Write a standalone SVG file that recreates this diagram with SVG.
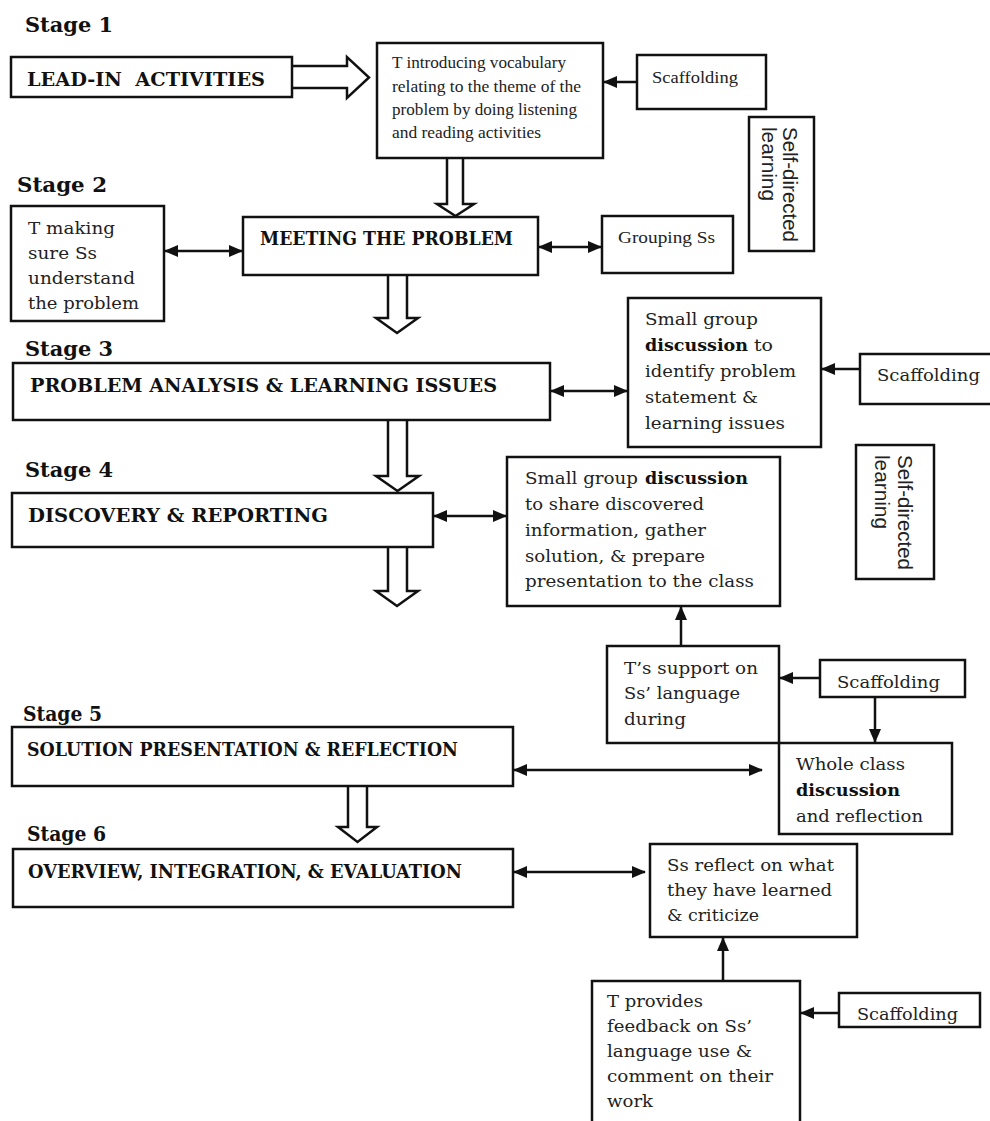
<svg xmlns="http://www.w3.org/2000/svg" width="990" height="1121" viewBox="0 0 990 1121">
<style>
.bx{fill:#fff;stroke:#111;stroke-width:2.5}
.h{font-family:"DejaVu Serif","Liberation Serif",serif;font-weight:bold;font-size:18.5px;fill:#111}
.st{font-family:"DejaVu Serif","Liberation Serif",serif;font-weight:bold;font-size:19.5px;fill:#111}
.t{font-family:"Liberation Serif","Times New Roman",serif;font-size:17.5px;fill:#222}
.w{font-family:"DejaVu Serif","Liberation Serif",serif;font-size:17.5px;fill:#222}
.wb{font-family:"DejaVu Serif","Liberation Serif",serif;font-size:17.5px;font-weight:bold;fill:#111}
.sd{font-family:"Liberation Sans",Arial,sans-serif;font-size:19.5px;fill:#222}
.c{stroke:#111;stroke-width:2.5;fill:none}
.blk{fill:#fff;stroke:#111;stroke-width:2.5;stroke-linejoin:miter}
</style>
<defs>
<marker id="ah" markerUnits="userSpaceOnUse" markerWidth="14" markerHeight="12" refX="13" refY="6" orient="auto-start-reverse">
<path d="M0,0 L14,6 L0,12 Z" fill="#111"/>
</marker>
</defs>
<rect width="990" height="1121" fill="#fff"/>

<g id="stage-labels">
<text class="st" x="25" y="32" textLength="88" lengthAdjust="spacingAndGlyphs">Stage 1</text>
<text class="st" x="17" y="192" textLength="90" lengthAdjust="spacingAndGlyphs">Stage 2</text>
<text class="st" x="25" y="356" textLength="88" lengthAdjust="spacingAndGlyphs">Stage 3</text>
<text class="st" x="25" y="477" textLength="88" lengthAdjust="spacingAndGlyphs">Stage 4</text>
<text class="st" x="23" y="721" textLength="79" lengthAdjust="spacingAndGlyphs">Stage 5</text>
<text class="st" x="27" y="841" textLength="79" lengthAdjust="spacingAndGlyphs">Stage 6</text>
</g>

<g id="connectors">
<path class="blk" d="M292,66 L347,66 L347,57 L369,77.5 L347,98 L347,88 L292,88"/>
<path class="blk" d="M447,158 L447,204 L437,204 L455.5,216 L474,204 L463,204 L463,158"/>
<path class="blk" d="M388,275 L388,318 L376,318 L397,333 L418,318 L407,318 L407,275"/>
<path class="blk" d="M388,421 L388,476 L376,476 L397.5,491 L419,476 L407,476 L407,421"/>
<path class="blk" d="M388,547 L388,591 L376,591 L397,606 L418,591 L407,591 L407,547"/>
<path class="blk" d="M348,786 L348,827 L338,827 L357.5,842 L377,827 L367,827 L367,786"/>
<line class="c" x1="165" y1="251" x2="242" y2="251" marker-start="url(#ah)" marker-end="url(#ah)"/>
<line class="c" x1="539" y1="247" x2="601" y2="247" marker-start="url(#ah)" marker-end="url(#ah)"/>
<line class="c" x1="551" y1="391" x2="627" y2="391" marker-start="url(#ah)" marker-end="url(#ah)"/>
<line class="c" x1="434" y1="516" x2="506" y2="516" marker-start="url(#ah)" marker-end="url(#ah)"/>
<line class="c" x1="514" y1="770" x2="762" y2="770" marker-start="url(#ah)" marker-end="url(#ah)"/>
<line class="c" x1="514" y1="872" x2="645" y2="872" marker-start="url(#ah)" marker-end="url(#ah)"/>
<line class="c" x1="637" y1="82" x2="604" y2="82" marker-end="url(#ah)"/>
<line class="c" x1="860" y1="369" x2="822" y2="369" marker-end="url(#ah)"/>
<line class="c" x1="681" y1="646" x2="681" y2="607" marker-end="url(#ah)"/>
<line class="c" x1="820" y1="678" x2="780" y2="678" marker-end="url(#ah)"/>
<line class="c" x1="875" y1="697" x2="875" y2="742" marker-end="url(#ah)"/>
<line class="c" x1="723" y1="981" x2="723" y2="938" marker-end="url(#ah)"/>
<line class="c" x1="839" y1="1013" x2="801" y2="1013" marker-end="url(#ah)"/>
</g>

<g id="lead-in">
<rect class="bx" x="11" y="57" width="281" height="40"/>
<text class="h" x="27" y="86" textLength="238" lengthAdjust="spacingAndGlyphs" xml:space="preserve">LEAD-IN  ACTIVITIES</text>
</g>

<g id="t-introducing">
<rect class="bx" x="377" y="43" width="226" height="115"/>
<text class="t" x="392" y="68" textLength="174" lengthAdjust="spacingAndGlyphs">T introducing vocabulary</text>
<text class="t" x="392" y="91.5" textLength="189" lengthAdjust="spacingAndGlyphs">relating to the theme of the</text>
<text class="t" x="392" y="115" textLength="185" lengthAdjust="spacingAndGlyphs">problem by doing listening</text>
<text class="t" x="392" y="138" textLength="149" lengthAdjust="spacingAndGlyphs">and reading activities</text>
</g>

<g id="scaffolding-1">
<rect class="bx" x="637" y="55" width="129" height="54"/>
<text class="t" x="652" y="83" textLength="86" lengthAdjust="spacingAndGlyphs">Scaffolding</text>
</g>

<g id="self-directed-1">
<rect class="bx" x="749" y="117" width="65" height="134"/>
<text class="sd" transform="translate(783,127) rotate(90)" textLength="115" lengthAdjust="spacingAndGlyphs">Self-directed</text>
<text class="sd" transform="translate(762,127) rotate(90)" textLength="74" lengthAdjust="spacingAndGlyphs">learning</text>
</g>

<g id="t-making-sure">
<rect class="bx" x="11" y="206" width="153" height="115"/>
<text class="w" x="28" y="234" textLength="87" lengthAdjust="spacingAndGlyphs">T making</text>
<text class="w" x="28" y="259" textLength="69" lengthAdjust="spacingAndGlyphs">sure Ss</text>
<text class="w" x="28" y="284" textLength="107" lengthAdjust="spacingAndGlyphs">understand</text>
<text class="w" x="28" y="309" textLength="111" lengthAdjust="spacingAndGlyphs">the problem</text>
</g>

<g id="meeting-the-problem">
<rect class="bx" x="243" y="217" width="295" height="58"/>
<text class="h" x="260" y="245" textLength="253" lengthAdjust="spacingAndGlyphs">MEETING THE PROBLEM</text>
</g>

<g id="grouping-ss">
<rect class="bx" x="602" y="216" width="131" height="57"/>
<text class="t" x="618" y="243" textLength="97" lengthAdjust="spacingAndGlyphs">Grouping Ss</text>
</g>

<g id="problem-analysis">
<rect class="bx" x="13" y="363" width="537" height="57"/>
<text class="h" x="30" y="392" textLength="467" lengthAdjust="spacingAndGlyphs">PROBLEM ANALYSIS &amp; LEARNING ISSUES</text>
</g>

<g id="small-group-1">
<rect class="bx" x="628" y="298" width="193" height="149"/>
<text class="w" x="645" y="325" textLength="113" lengthAdjust="spacingAndGlyphs">Small group</text>
<text class="wb" x="645" y="351" textLength="103" lengthAdjust="spacingAndGlyphs">discussion</text>
<text class="w" x="754" y="351" textLength="19" lengthAdjust="spacingAndGlyphs">to</text>
<text class="w" x="645" y="377" textLength="151" lengthAdjust="spacingAndGlyphs">identify problem</text>
<text class="w" x="645" y="403" textLength="113" lengthAdjust="spacingAndGlyphs">statement &amp;</text>
<text class="w" x="645" y="429" textLength="140" lengthAdjust="spacingAndGlyphs">learning issues</text>
</g>

<g id="scaffolding-2">
<rect class="bx" x="860" y="354" width="140" height="50"/>
<text class="w" x="877" y="381" textLength="103" lengthAdjust="spacingAndGlyphs">Scaffolding</text>
</g>

<g id="self-directed-2">
<rect class="bx" x="856" y="445" width="78" height="134"/>
<text class="sd" transform="translate(898,455) rotate(90)" textLength="115" lengthAdjust="spacingAndGlyphs">Self-directed</text>
<text class="sd" transform="translate(875,455) rotate(90)" textLength="74" lengthAdjust="spacingAndGlyphs">learning</text>
</g>

<g id="discovery-reporting">
<rect class="bx" x="12" y="493" width="421" height="54"/>
<text class="h" x="28" y="522" textLength="300" lengthAdjust="spacingAndGlyphs">DISCOVERY &amp; REPORTING</text>
</g>

<g id="small-group-2">
<rect class="bx" x="507" y="457" width="273" height="149"/>
<text class="w" x="525" y="484" textLength="113" lengthAdjust="spacingAndGlyphs">Small group</text>
<text class="wb" x="645" y="484" textLength="103" lengthAdjust="spacingAndGlyphs">discussion</text>
<text class="w" x="525" y="510" textLength="179" lengthAdjust="spacingAndGlyphs">to share discovered</text>
<text class="w" x="525" y="536" textLength="181" lengthAdjust="spacingAndGlyphs">information, gather</text>
<text class="w" x="525" y="562" textLength="180" lengthAdjust="spacingAndGlyphs">solution, &amp; prepare</text>
<text class="w" x="525" y="587" textLength="229" lengthAdjust="spacingAndGlyphs">presentation to the class</text>
</g>

<g id="t-support">
<rect class="bx" x="607" y="646" width="172" height="97"/>
<text class="w" x="624" y="674" textLength="134" lengthAdjust="spacingAndGlyphs">T’s support on</text>
<text class="w" x="624" y="699" textLength="116" lengthAdjust="spacingAndGlyphs">Ss’ language</text>
<text class="w" x="624" y="725" textLength="62" lengthAdjust="spacingAndGlyphs">during</text>
</g>

<g id="scaffolding-3">
<rect class="bx" x="820" y="660" width="145" height="37"/>
<text class="w" x="837" y="688" textLength="103" lengthAdjust="spacingAndGlyphs">Scaffolding</text>
</g>

<g id="solution-presentation">
<rect class="bx" x="12" y="727" width="501" height="59"/>
<text class="h" x="27" y="756" textLength="431" lengthAdjust="spacingAndGlyphs">SOLUTION PRESENTATION &amp; REFLECTION</text>
</g>

<g id="whole-class">
<rect class="bx" x="779" y="743" width="173" height="91"/>
<text class="w" x="796" y="770" textLength="109" lengthAdjust="spacingAndGlyphs">Whole class</text>
<text class="wb" x="796" y="796" textLength="104" lengthAdjust="spacingAndGlyphs">discussion</text>
<text class="w" x="796" y="822" textLength="127" lengthAdjust="spacingAndGlyphs">and reflection</text>
</g>

<g id="overview">
<rect class="bx" x="13" y="849" width="500" height="58"/>
<text class="h" x="28" y="878" textLength="434" lengthAdjust="spacingAndGlyphs">OVERVIEW, INTEGRATION, &amp; EVALUATION</text>
</g>

<g id="ss-reflect">
<rect class="bx" x="650" y="844" width="207" height="93"/>
<text class="w" x="667" y="871" textLength="167" lengthAdjust="spacingAndGlyphs">Ss reflect on what</text>
<text class="w" x="667" y="896" textLength="165" lengthAdjust="spacingAndGlyphs">they have learned</text>
<text class="w" x="667" y="921" textLength="92" lengthAdjust="spacingAndGlyphs">&amp; criticize</text>
</g>

<g id="t-provides">
<rect class="bx" x="592" y="981" width="208" height="150"/>
<text class="w" x="607" y="1007" textLength="96" lengthAdjust="spacingAndGlyphs">T provides</text>
<text class="w" x="607" y="1032" textLength="145" lengthAdjust="spacingAndGlyphs">feedback on Ss’</text>
<text class="w" x="607" y="1057" textLength="145" lengthAdjust="spacingAndGlyphs">language use &amp;</text>
<text class="w" x="607" y="1082" textLength="166" lengthAdjust="spacingAndGlyphs">comment on their</text>
<text class="w" x="607" y="1107" textLength="46" lengthAdjust="spacingAndGlyphs">work</text>
</g>

<g id="scaffolding-4">
<rect class="bx" x="839" y="993" width="141" height="34"/>
<text class="w" x="857" y="1020" textLength="101" lengthAdjust="spacingAndGlyphs">Scaffolding</text>
</g>
</svg>
